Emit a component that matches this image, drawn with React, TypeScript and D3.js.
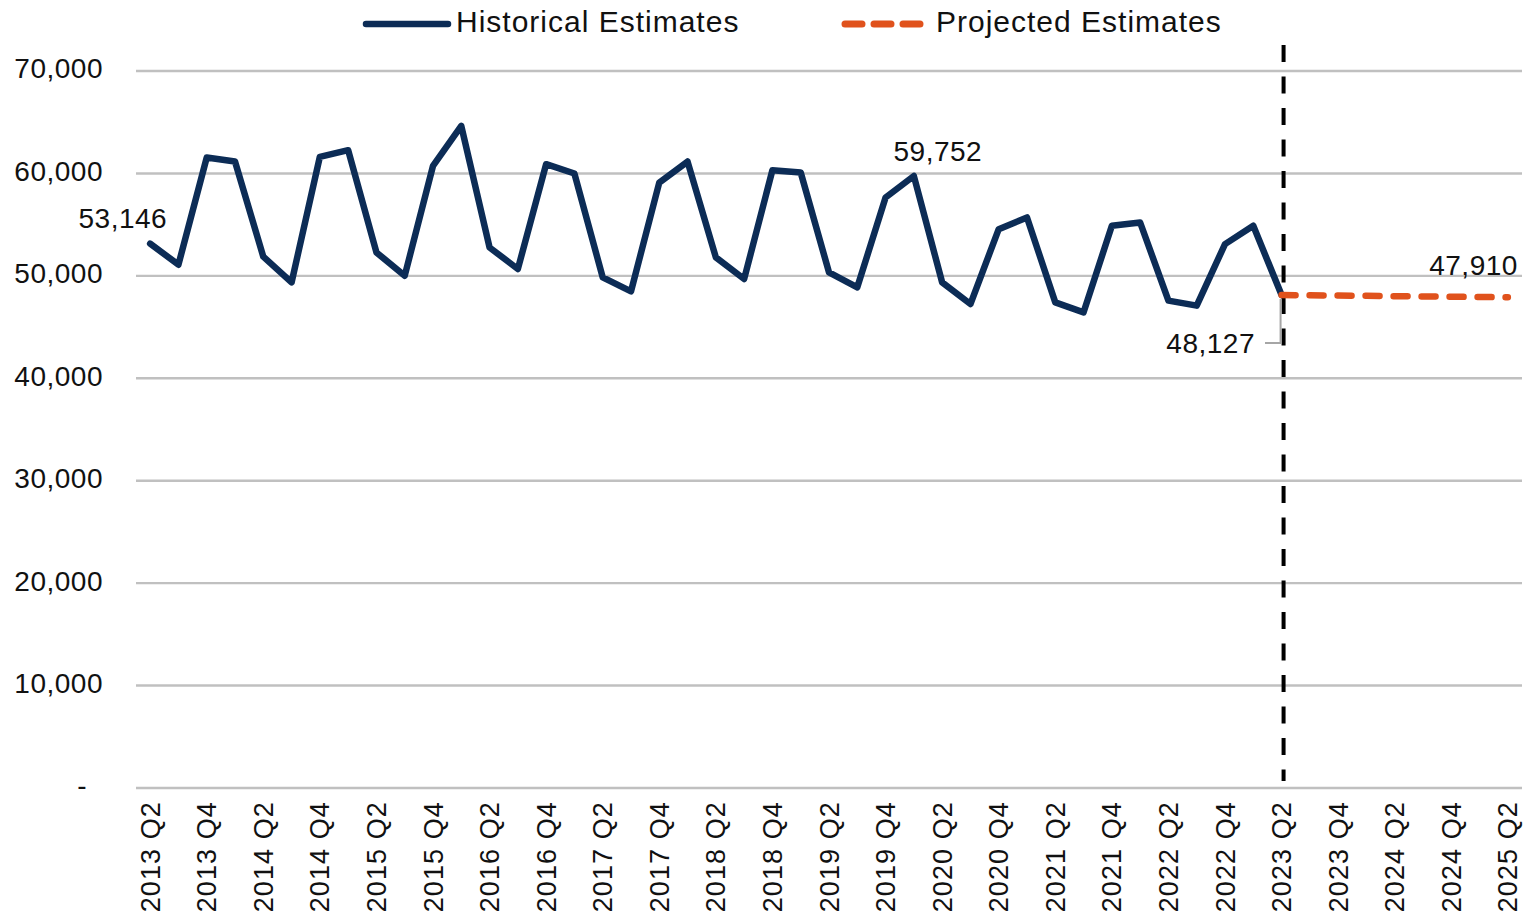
import React from "react";
import * as d3 from "d3";

const quarters = [
  "2013 Q2","2013 Q3","2013 Q4","2014 Q1","2014 Q2","2014 Q3","2014 Q4","2015 Q1",
  "2015 Q2","2015 Q3","2015 Q4","2016 Q1","2016 Q2","2016 Q3","2016 Q4","2017 Q1",
  "2017 Q2","2017 Q3","2017 Q4","2018 Q1","2018 Q2","2018 Q3","2018 Q4","2019 Q1",
  "2019 Q2","2019 Q3","2019 Q4","2020 Q1","2020 Q2","2020 Q3","2020 Q4","2021 Q1",
  "2021 Q2","2021 Q3","2021 Q4","2022 Q1","2022 Q2","2022 Q3","2022 Q4","2023 Q1",
  "2023 Q2","2023 Q3","2023 Q4","2024 Q1","2024 Q2","2024 Q3","2024 Q4","2025 Q1",
  "2025 Q2",
];

const historical = [
  53146, 51090, 61550, 61160, 51870, 49360, 61620, 62270, 52290, 50010,
  60740, 64640, 52770, 50670, 60900, 59990, 49850, 48490, 59110, 61160,
  51800, 49690, 60320, 60090, 50340, 48880, 57650, 59752, 49360, 47250,
  54560, 55700, 47410, 46440, 54890, 55210, 47580, 47090, 53100, 54890,
  48127,
];

const projected = [48127, 48100, 48080, 48050, 48010, 47990, 47960, 47935, 47910];

const yTicks = [0, 10000, 20000, 30000, 40000, 50000, 60000, 70000];
const yTickLabels = ["-", "10,000", "20,000", "30,000", "40,000", "50,000", "60,000", "70,000"];

const legendLabels = ["Historical Estimates", "Projected Estimates"];

const W = 1526;
const H = 917;
const FONT = "'Liberation Sans', Arial, sans-serif";
const NAVY = "#0c2c56";
const ORANGE = "#e0521c";
const GRID = "#c0c0c0";

export default function App() {
  const x = d3.scalePoint<string>().domain(quarters).range([136, 1522]).padding(0.5);
  const y = d3.scaleLinear().domain([0, 70000]).range([788, 71]);

  const histData = historical.map((v, i) => ({ q: quarters[i], v }));
  const projStart = historical.length - 1;
  const projData = projected.map((v, i) => ({ q: quarters[projStart + i], v }));

  const line = d3
    .line<{ q: string; v: number }>()
    .x((d) => x(d.q) as number)
    .y((d) => y(d.v));

  const fmt = d3.format(",");
  const splitX = x(quarters[projStart]) as number;

  const first = histData[0];
  const peak = histData[27];
  const lastH = histData[projStart];
  const lastP = projData[projData.length - 1];

  const lblStyle = { fontSize: 28, fill: "#111", letterSpacing: 0.5 } as const;

  return (
    <div style={{ position: "absolute", left: 0, top: 0 }}>
      <svg width={W} height={H} style={{ display: "block", fontFamily: FONT }}>
        <rect width={W} height={H} fill="#fff" />
        {/* gridlines */}
        {yTicks.map((t) => (
          <line key={t} x1={136} x2={1522} y1={y(t)} y2={y(t)} stroke={GRID} strokeWidth={2.4} />
        ))}
        {/* y tick labels */}
        {yTicks.map((t, i) => (
          <text
            key={"yl" + t}
            x={t === 0 ? 87 : 103}
            y={y(t)}
            textAnchor="end"
            dominantBaseline="middle"
            {...lblStyle}
          >
            {yTickLabels[i]}
          </text>
        ))}
        {/* x tick labels */}
        {quarters.map((q, i) =>
          i % 2 === 0 ? (
            <text
              key={"xl" + q}
              transform={`translate(${(x(q) as number) + 9.5},801) rotate(-90)`}
              textAnchor="end"
              fontSize={27}
              fill="#111"
              letterSpacing={1.1}
            >
              {q}
            </text>
          ) : null
        )}
        {/* vertical divider */}
        <line
          x1={splitX + 2}
          x2={splitX + 2}
          y1={45}
          y2={781}
          stroke="#000"
          strokeWidth={4}
          strokeDasharray="17 14.5"
        />
        {/* leader line for 48,127 */}
        <polyline
          points={`1265,343 ${splitX - 1},343 ${splitX - 1},${y(lastH.v) + 4}`}
          fill="none"
          stroke="#a6a6a6"
          strokeWidth={2}
        />
        {/* historical line */}
        <path
          d={line(histData) || ""}
          fill="none"
          stroke={NAVY}
          strokeWidth={6.5}
          strokeLinejoin="round"
          strokeLinecap="round"
        />
        {/* projected line */}
        <path
          d={line(projData) || ""}
          fill="none"
          stroke={ORANGE}
          strokeWidth={6.5}
          strokeLinecap="round"
          strokeDasharray="14 14"
        />
        {/* data labels */}
        <text x={(x(first.q) as number) + 17} y={y(first.v) - 16} textAnchor="end" {...lblStyle}>
          {fmt(first.v)}
        </text>
        <text x={(x(peak.q) as number) + 24} y={y(peak.v) - 15} textAnchor="middle" {...lblStyle}>
          {fmt(peak.v)}
        </text>
        <text x={1255} y={353} textAnchor="end" {...lblStyle}>
          {fmt(lastH.v)}
        </text>
        <text x={(x(lastP.q) as number) + 10} y={y(lastP.v) - 22} textAnchor="end" {...lblStyle}>
          {fmt(lastP.v)}
        </text>
        {/* legend */}
        <line x1={366} x2={448} y1={24} y2={24} stroke={NAVY} strokeWidth={6.5} strokeLinecap="round" />
        <text x={456} y={24} dominantBaseline="middle" fontSize={30} fill="#111" letterSpacing={1}>
          {legendLabels[0]}
        </text>
        <line
          x1={845}
          x2={925}
          y1={24}
          y2={24}
          stroke={ORANGE}
          strokeWidth={7}
          strokeLinecap="round"
          strokeDasharray="17 12"
        />
        <text x={936} y={24} dominantBaseline="middle" fontSize={30} fill="#111" letterSpacing={1}>
          {legendLabels[1]}
        </text>
      </svg>
    </div>
  );
}
